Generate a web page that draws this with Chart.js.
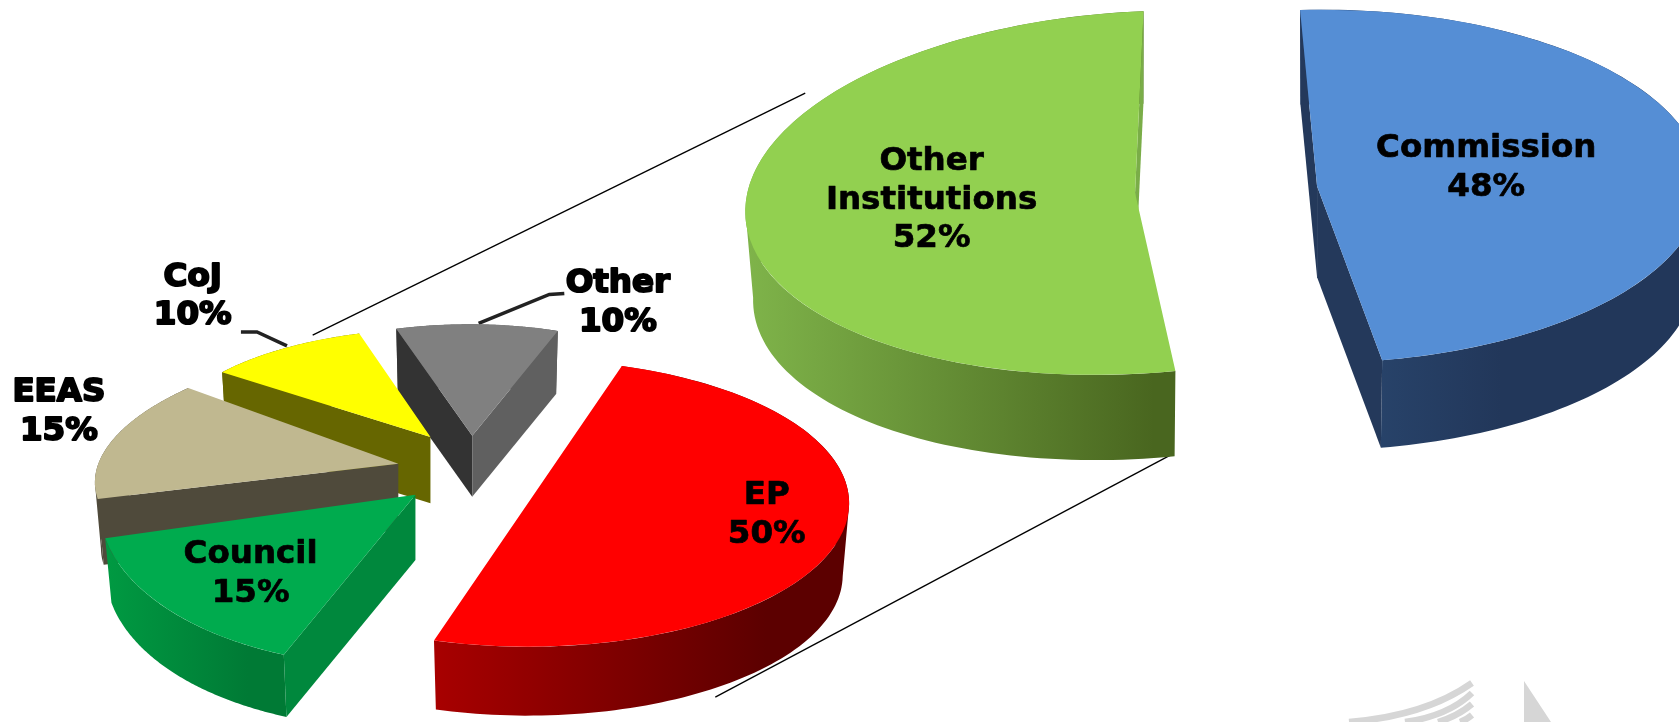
<!DOCTYPE html>
<html>
<head>
<meta charset="utf-8">
<title>EU institutions</title>
<style>
html, body { margin: 0; padding: 0; background: #fff; overflow: hidden; }
canvas { position: absolute; left: 0; top: 0; }
</style>
<script src="https://cdn.jsdelivr.net/npm/chart.js@4.4.1/dist/chart.umd.min.js"></script>
</head>
<body>
<canvas id="detail" width="1679" height="722"></canvas>
<canvas id="split" width="1679" height="722"></canvas>
<script>
// values
var splitNames = ["Commission", "Other Institutions"];
var splitValues = [48, 52];
var detailNames = ["EP", "Council", "EEAS", "CoJ", "Other"];
var detailValues = [50, 15, 15, 10, 10];

// colours: wall is [left colour, dark colour, where the dark colour is reached]
var splitTop = ["#558ed5", "#92d050"];
var splitWall = [["#2b4a73", "#22375a", 0.5], ["#7fb44a", "#49661f", 0.95]];
var splitFace = [["#24395b", "#24395b"], ["#7aad48", "#7aad48"]];
var detailTop = ["#ff0000", "#00ab4e", "#c0b890", "#ffff00", "#808080"];
var detailWall = [["#a80000", "#5c0000", 0.8], ["#009a42", "#007a35", 0.8], ["#4f4a3b", "#4f4a3b", 1], ["#666600", "#666600", 1], ["#555555", "#555555", 1]];
var detailFace = [["#8a0000", "#8a0000"], ["#00883d", "#00883d"], ["#4f4a3b", "#4f4a3b"], ["#666600", "#666600"], ["#333333", "#606060"]];

// layout, in units of the 1568 wide sketch: apex, x axis and y axis of every tilted slice
var unit = 1679 / 1568;
var splitFrames = [
    { ax: 1230, ay: 174, ux: 360, uy: 0, vx: -3, vy: 165, depth: 85 },
    { ax: 1060, ay: 180, ux: 363, uy: -5, vx: -27, vy: 170, depth: 83 }
];
var detailFrames = [
    { ax: 493, ay: 470, ux: 300, uy: 0, vx: 0, vy: 134, depth: 67 },
    { ax: 388, ay: 462, ux: 293, uy: 12, vx: -39, vy: 160, depth: 61 },
    { ax: 372, ay: 433, ux: 278, uy: 5, vx: -55, vy: 116, depth: 62 },
    { ax: 402, ay: 408, ux: 248, uy: 3, vx: -15, vy: 101, depth: 62 },
    { ax: 441, ay: 407, ux: 244, uy: 5, vx: -9, vy: 104, depth: 57 }
];
var splitDraw = [1, 0];
var detailDraw = [4, 3, 2, 1, 0];

var splitLabels = [
    { lines: ["Commission", "48%"], x: 1388, y: 139 },
    { lines: ["Other", "Institutions", "52%"], x: 870, y: 151 }
];
var detailLabels = [
    { lines: ["EP", "50%"], x: 716, y: 463 },
    { lines: ["Council", "15%"], x: 234, y: 518 },
    { lines: ["EEAS", "15%"], x: 55, y: 367, heavy: true },
    { lines: ["CoJ", "10%"], x: 180, y: 259, heavy: true },
    { lines: ["Other", "10%"], x: 577, y: 265, heavy: true }
];
var thinLines = [[[752, 87], [292, 313]], [[1093, 425], [668, 651]]];
var leaders = [[[225, 310], [240, 310], [268, 323]], [[527, 274], [513, 275], [447, 302]]];

function spot(f, a, shrink) {
    var s = shrink || 1;
    var c = Math.cos(a) * s, d = Math.sin(a) * s;
    return { x: (f.ax + f.ux * c + f.vx * d) * unit, y: (f.ay + f.uy * c + f.vy * d) * unit };
}

function addQuad(ctx, a, b, c, d) {
    ctx.moveTo(a.x, a.y);
    ctx.lineTo(b.x, b.y);
    ctx.lineTo(c.x, c.y);
    ctx.lineTo(d.x, d.y);
    ctx.closePath();
}

function drawWalls(ctx, arc, f, wall, face) {
    var drop = f.depth * unit;
    var i, steps = 120, top = [], low = [];
    var left = Infinity, right = -Infinity;
    for (i = 0; i <= steps; i++) {
        var a = arc.startAngle + (arc.endAngle - arc.startAngle) * i / steps;
        var p = spot(f, a), q = spot(f, a, 0.98);
        left = Math.min(left, p.x);
        right = Math.max(right, p.x);
        top.push(p);
        low.push({ x: q.x, y: q.y + drop });
    }
    var grad = ctx.createLinearGradient(left, 0, right, 0);
    grad.addColorStop(0, wall[0]);
    grad.addColorStop(wall[2], wall[1]);
    grad.addColorStop(1, wall[1]);
    // all strips in one path, same winding, so no seams and the outline stays closed
    ctx.beginPath();
    for (i = 0; i < steps; i++) {
        if (top[i + 1].x >= top[i].x) addQuad(ctx, top[i], top[i + 1], low[i + 1], low[i]);
        else addQuad(ctx, top[i + 1], top[i], low[i], low[i + 1]);
    }
    ctx.fillStyle = grad;
    ctx.fill();

    // straight cut faces, only those that look down towards the viewer
    var apex = { x: f.ax * unit, y: f.ay * unit };
    var apexLow = { x: apex.x, y: apex.y + drop };
    var mid = spot(f, (arc.startAngle + arc.endAngle) / 2);
    [arc.startAngle, arc.endAngle].forEach(function (angle, k) {
        var rim = spot(f, angle);
        var rimLow = spot(f, angle, 0.98);
        var nx = -(rim.y - apex.y), ny = rim.x - apex.x;
        if (nx * (mid.x - apex.x) + ny * (mid.y - apex.y) > 0) { ny = -ny; }
        if (ny > 0) {
            ctx.beginPath();
            addQuad(ctx, apex, rim, { x: rimLow.x, y: rimLow.y + drop }, apexLow);
            ctx.fillStyle = face[k];
            ctx.fill();
        }
    });
}

var slabPlugin = {
    id: "slab",
    beforeDatasetDraw: function (chart, args, opts) {
        var ctx = chart.ctx;
        var arcs = args.meta.data;
        opts.order.forEach(function (i) {
            var arc = arcs[i], f = opts.frames[i], r = arc.outerRadius;
            drawWalls(ctx, arc, f, opts.walls[i], opts.faces[i]);
            ctx.save();
            // the library's own arc, laid on its tilted plane
            var a = f.ux * unit / r, b = f.uy * unit / r, c = f.vx * unit / r, d = f.vy * unit / r;
            ctx.transform(a, b, c, d, f.ax * unit - a * arc.x - c * arc.y, f.ay * unit - b * arc.x - d * arc.y);
            arc.draw(ctx, chart.chartArea);
            ctx.restore();
        });
        return false;
    },
    afterDraw: function (chart, args, opts) {
        var ctx = chart.ctx;
        ctx.save();
        ctx.fillStyle = "#000";
        ctx.strokeStyle = "#000";
        ctx.textAlign = "center";
        ctx.textBaseline = "middle";
        ctx.lineJoin = "round";
        ctx.font = "bold 32.5px 'DejaVu Sans'";
        opts.labels.forEach(function (l) {
            l.lines.forEach(function (t, n) {
                var x = l.x * unit, y = (l.y + n * 36) * unit;
                ctx.lineWidth = l.heavy ? 2 : 0.7;
                ctx.strokeText(t, x, y);
                ctx.fillText(t, x, y);
            });
        });
        ctx.restore();
    }
};

function pathLine(ctx, pts) {
    ctx.beginPath();
    pts.forEach(function (p, i) {
        if (i === 0) ctx.moveTo(p[0] * unit, p[1] * unit); else ctx.lineTo(p[0] * unit, p[1] * unit);
    });
    ctx.stroke();
}

// connector lines and the faint logo go under the slices
var backdropPlugin = {
    id: "backdrop",
    beforeDatasetsDraw: function (chart) {
        var ctx = chart.ctx;
        ctx.save();
        ctx.strokeStyle = "#000";
        ctx.lineWidth = 1.3;
        thinLines.forEach(function (l) { pathLine(ctx, l); });
        ctx.lineWidth = 3.5;
        ctx.strokeStyle = "#222";
        leaders.forEach(function (l) { pathLine(ctx, l); });
        ctx.strokeStyle = "#d6d6d6";
        ctx.lineWidth = 6.5;
        [[1349, 722, 1425, 716, 1472, 683], [1405, 722, 1448, 716, 1472, 693], [1438, 722, 1458, 716, 1472, 704], [1460, 722, 1466, 720, 1472, 715]].forEach(function (c) {
            ctx.beginPath();
            ctx.moveTo(c[0], c[1]);
            ctx.quadraticCurveTo(c[2], c[3], c[4], c[5]);
            ctx.stroke();
        });
        ctx.fillStyle = "#d6d6d6";
        ctx.beginPath();
        ctx.moveTo(1524, 681);
        ctx.lineTo(1551, 722);
        ctx.lineTo(1524, 722);
        ctx.closePath();
        ctx.fill();
        ctx.restore();
    }
};

function pieConfig(names, values, colors, rotation, slab, extra) {
    return {
        type: "pie",
        data: {
            labels: names,
            datasets: [{ data: values, backgroundColor: colors, borderWidth: 0, hoverOffset: 0 }]
        },
        options: {
            responsive: false,
            animation: false,
            rotation: rotation,
            plugins: { legend: { display: false }, tooltip: { enabled: false }, slab: slab }
        },
        plugins: extra
    };
}

new Chart(document.getElementById("detail"), pieConfig(detailNames, detailValues, detailTop, 17, {
    frames: detailFrames, walls: detailWall, faces: detailFace, order: detailDraw, labels: detailLabels
}, [backdropPlugin, slabPlugin]));

new Chart(document.getElementById("split"), pieConfig(splitNames, splitValues, splitTop, -3, {
    frames: splitFrames, walls: splitWall, faces: splitFace, order: splitDraw, labels: splitLabels
}, [slabPlugin]));
</script>
</body>
</html>
